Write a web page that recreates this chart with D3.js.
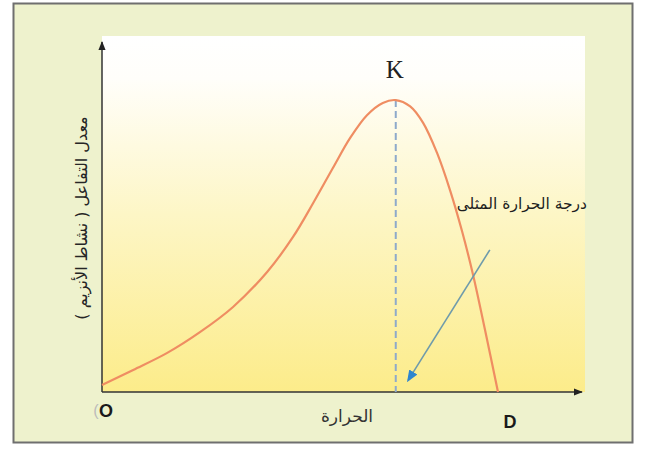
<!DOCTYPE html>
<html>
<head>
<meta charset="utf-8">
<script src="https://cdn.jsdelivr.net/npm/d3@7"></script>
<style>
  html, body { margin: 0; padding: 0; background: #ffffff; }
  svg { display: block; }
</style>
</head>
<body>
<svg id="chart" width="645" height="452"></svg>
<script>
// Enzyme activity versus temperature (relative units)
const temperature = [0, 6.5, 13.5, 20.4, 27.3, 34.4, 39.8, 44, 48.1, 51.7, 55.2, 58.5, 61.2, 64.2, 66.9, 69.8, 72.5, 75, 77.3, 79.8, 82.5];
const activity    = [2.0, 6.3, 11.1, 17.1, 24.3, 34.3, 44.3, 54, 64, 72.6, 79.1, 82.6, 83.4, 81.6, 76.9, 68.3, 57.7, 46, 33.5, 17.7, 0];

const optimumTemp = 61.2;
const optimumRate = 83.4;

const labels = {
  yAxis: "معدل التفاعل ( نشاط الأنزيم )",
  xAxis: "الحرارة",
  optimum: "درجة الحرارة المثلى",
  peak: "K",
  origin: "O",
  end: "D"
};

// pointer from the optimum-temperature note down to the axis
const pointerFrom = [80.8, 40.6];
const pointerTo = [63.8, 3.4];

const svg = d3.select("#chart");

const x = d3.scaleLinear().domain([0, 100]).range([102, 582]);
const y = d3.scaleLinear().domain([0, 100]).range([392, 42]);

const defs = svg.append("defs");
const grad = defs.append("linearGradient")
  .attr("id", "plotFill").attr("x1", 0).attr("y1", 0).attr("x2", 0).attr("y2", 1);
grad.append("stop").attr("offset", "0%").attr("stop-color", "#ffffff");
grad.append("stop").attr("offset", "12%").attr("stop-color", "#fffefa");
grad.append("stop").attr("offset", "50%").attr("stop-color", "#fdf6c6");
grad.append("stop").attr("offset", "100%").attr("stop-color", "#fcec8a");

defs.append("marker")
  .attr("id", "axisHead").attr("viewBox", "0 0 10 10")
  .attr("refX", 9).attr("refY", 5)
  .attr("markerWidth", 9).attr("markerHeight", 9)
  .attr("markerUnits", "userSpaceOnUse")
  .attr("orient", "auto")
  .append("path").attr("d", "M0,1 L10,5 L0,9 Z").attr("fill", "#222");

defs.append("marker")
  .attr("id", "pointerHead").attr("viewBox", "0 0 10 10")
  .attr("refX", 8).attr("refY", 5)
  .attr("markerWidth", 12).attr("markerHeight", 12)
  .attr("markerUnits", "userSpaceOnUse")
  .attr("orient", "auto")
  .append("path").attr("d", "M0,1 L10,5 L0,9 Z").attr("fill", "#2f86cf");

// outer frame
svg.append("rect")
  .attr("x", 13.5).attr("y", 3.5).attr("width", 619).attr("height", 439)
  .attr("fill", "#eef2cd").attr("stroke", "#6f6f6f").attr("stroke-width", 2);

// plot area
svg.append("rect")
  .attr("x", x(0)).attr("y", 36)
  .attr("width", 585 - x(0)).attr("height", y(0) - 36)
  .attr("fill", "url(#plotFill)");

// axes
svg.append("line")
  .attr("x1", x(0)).attr("y1", y(0)).attr("x2", x(100)).attr("y2", y(0))
  .attr("stroke", "#333").attr("stroke-width", 1.5)
  .attr("marker-end", "url(#axisHead)");
svg.append("line")
  .attr("x1", x(0)).attr("y1", y(0)).attr("x2", x(0)).attr("y2", y(100))
  .attr("stroke", "#333").attr("stroke-width", 1.5)
  .attr("marker-end", "url(#axisHead)");

// optimum marker line
svg.append("line")
  .attr("x1", x(optimumTemp)).attr("y1", y(optimumRate))
  .attr("x2", x(optimumTemp)).attr("y2", y(0))
  .attr("stroke", "#8eaacb").attr("stroke-width", 2)
  .attr("stroke-dasharray", "7,4");

// activity curve
const line = d3.line()
  .x((d, i) => x(temperature[i]))
  .y((d, i) => y(activity[i]))
  .curve(d3.curveCatmullRom.alpha(0.5));
svg.append("path")
  .datum(temperature)
  .attr("d", line)
  .attr("fill", "none")
  .attr("stroke", "#ef8d62")
  .attr("stroke-width", 2.2);

// pointer arrow
svg.append("line")
  .attr("x1", x(pointerFrom[0])).attr("y1", y(pointerFrom[1]))
  .attr("x2", x(pointerTo[0])).attr("y2", y(pointerTo[1]))
  .attr("stroke", "#6f9bab").attr("stroke-width", 1.6)
  .attr("marker-end", "url(#pointerHead)");

// labels
svg.append("text")
  .attr("x", x(optimumTemp) - 1).attr("y", 78)
  .attr("text-anchor", "middle")
  .attr("font-family", "'Liberation Serif', serif")
  .attr("font-size", 25)
  .attr("fill", "#222")
  .text(labels.peak);

svg.append("text")
  .attr("x", 587).attr("y", 209)
  .attr("text-anchor", "end")
  .attr("font-family", "'DejaVu Sans', sans-serif")
  .attr("font-size", 15.5)
  .attr("fill", "#1e1e1e")
  .text(labels.optimum);

svg.append("text")
  .attr("x", 347).attr("y", 422)
  .attr("text-anchor", "middle")
  .attr("font-family", "'DejaVu Sans', sans-serif")
  .attr("font-size", 17)
  .attr("fill", "#333")
  .text(labels.xAxis);

svg.append("text")
  .attr("transform", "translate(87,218) rotate(-90)")
  .attr("text-anchor", "middle")
  .attr("font-family", "'DejaVu Sans', sans-serif")
  .attr("font-size", 16)
  .attr("fill", "#262626")
  .text(labels.yAxis);

svg.append("text")
  .attr("x", 510).attr("y", 428)
  .attr("text-anchor", "middle")
  .attr("font-family", "'Liberation Sans', Arial, sans-serif")
  .attr("font-weight", "bold")
  .attr("font-size", 18)
  .attr("fill", "#1a1a1a")
  .text(labels.end);

svg.append("text")
  .attr("x", 96).attr("y", 416)
  .attr("text-anchor", "middle")
  .attr("font-family", "'Liberation Sans', Arial, sans-serif")
  .attr("font-size", 16)
  .attr("fill", "#bbbbbb")
  .text("(");
svg.append("text")
  .attr("x", 106).attr("y", 417)
  .attr("text-anchor", "middle")
  .attr("font-family", "'Liberation Sans', Arial, sans-serif")
  .attr("font-weight", "bold")
  .attr("font-size", 18)
  .attr("fill", "#1a1a1a")
  .text(labels.origin);
</script>
</body>
</html>
